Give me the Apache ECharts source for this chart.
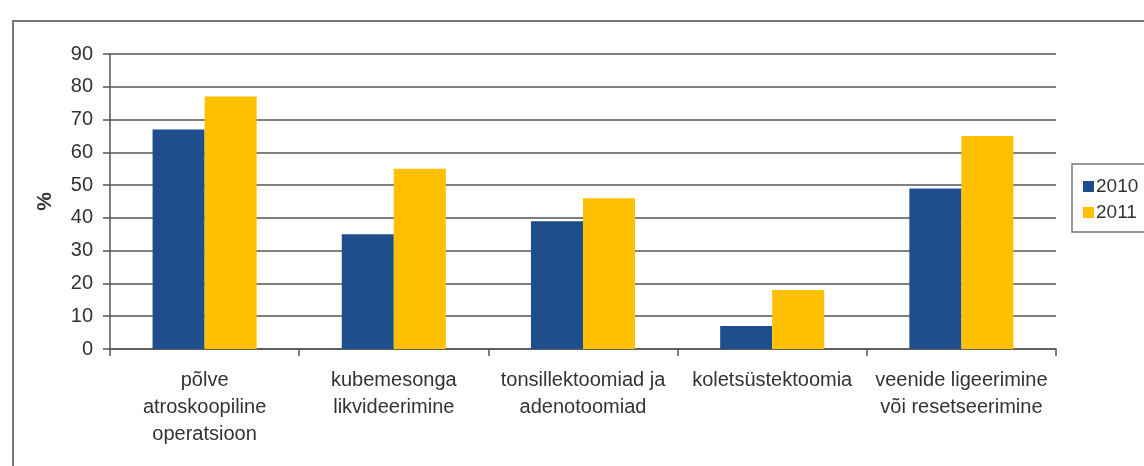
<!DOCTYPE html>
<html>
<head>
<meta charset="utf-8">
<script src="https://cdn.jsdelivr.net/npm/echarts@6/dist/echarts.min.js"></script>
<style>
  html, body { margin: 0; padding: 0; background: #fff; }
  #chart { width: 1144px; height: 466px; }
</style>
</head>
<body>
<div id="chart"></div>
<script>
// andmed
var categories = [
  'põlve\natroskoopiline\noperatsioon',
  'kubemesonga\nlikvideerimine',
  'tonsillektoomiad ja\nadenotoomiad',
  'koletsüstektoomia',
  'veenide ligeerimine\nvõi resetseerimine'
]
var years = ['2010', '2011']
var values2010 = [67, 35, 39, 7, 49]
var values2011 = [77, 55, 46, 18, 65]
var yTicks = [0, 10, 20, 30, 40, 50, 60, 70, 80, 90]

var font = '"Liberation Sans", Arial, sans-serif'
var myChart = echarts.init(document.getElementById('chart'))

myChart.setOption({
  color: ['#1f4e8c', '#ffc000'],
  animation: false,
  textStyle: { fontFamily: font },
  grid: {
    left: 110,
    right: 88,
    top: 54,
    bottom: 117
  },
  legend: {
    orient: 'vertical',
    left: 1078,
    top: 172,
    itemWidth: 11,
    itemHeight: 11,
    itemGap: 7,
    icon: 'rect',
    selectedMode: false,
    textStyle: { fontSize: 19, color: '#333', fontFamily: font, padding: [0, 0, 0, -3] },
    data: years
  },
  xAxis: {
    type: 'category',
    data: categories,
    axisLine: { lineStyle: { color: '#555', width: 1.5 } },
    axisTick: { show: true, alignWithLabel: false, length: 7, lineStyle: { color: '#555', width: 1.5 } },
    axisLabel: {
      fontSize: 20,
      color: '#333',
      lineHeight: 27,
      margin: 18,
      interval: 0,
      fontFamily: font
    }
  },
  yAxis: {
    type: 'value',
    min: yTicks[0],
    max: yTicks[yTicks.length - 1],
    interval: 10,
    name: '%',
    nameLocation: 'middle',
    nameRotate: 90,
    nameGap: 54,
    nameTextStyle: { fontSize: 21, color: '#333', fontWeight: 'bold', fontFamily: font },
    axisLine: { show: true, lineStyle: { color: '#555', width: 1.5 } },
    axisTick: { show: true, length: 7, lineStyle: { color: '#555', width: 1.5 } },
    axisLabel: { fontSize: 20, color: '#333', margin: 17, fontFamily: font },
    splitLine: { lineStyle: { color: '#555', width: 1.5 } }
  },
  graphic: [
    {
      type: 'rect',
      shape: { x: 13, y: 21, width: 1200, height: 500 },
      style: { fill: 'none', stroke: '#777', lineWidth: 2 },
      silent: true
    },
    {
      type: 'rect',
      shape: { x: 1072, y: 164, width: 100, height: 68 },
      style: { fill: 'none', stroke: '#777', lineWidth: 1.5 },
      silent: true
    }
  ],
  series: [
    {
      name: years[0],
      type: 'bar',
      data: values2010,
      barGap: '0',
      barCategoryGap: '45%'
    },
    {
      name: years[1],
      type: 'bar',
      data: values2011,
      barGap: '0',
      barCategoryGap: '45%'
    }
  ]
})
</script>
</body>
</html>
